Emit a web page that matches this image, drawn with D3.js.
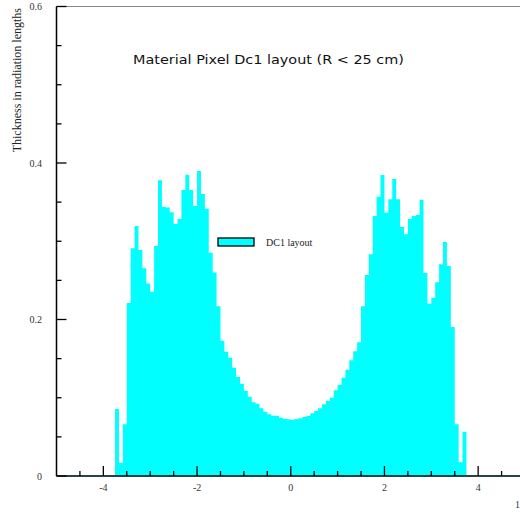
<!DOCTYPE html>
<html>
<head>
<meta charset="utf-8">
<script src="https://cdn.jsdelivr.net/npm/d3@7"></script>
<style>
  html, body { margin: 0; padding: 0; background: #fff; }
  svg { display: block; }
</style>
</head>
<body>
<svg id="chart" width="520" height="512"></svg>
<script>
// ---- data ----
const title = "Material Pixel Dc1 layout (R < 25 cm)";
const yTitle = "Thickness in radiation lengths";
const legendLabel = "DC1 layout";
const histRange = [-3.75, 3.75];   // eta range covered by the bins
const thickness = [
  0.0856, 0.017, 0.066, 0.221, 0.291, 0.3195, 0.2888, 0.2654, 0.246, 0.2355,
  0.2939, 0.378, 0.344, 0.343, 0.337, 0.322, 0.3284, 0.3655, 0.385, 0.3655,
  0.345, 0.3898, 0.3604, 0.3414, 0.2854, 0.26, 0.217, 0.1729, 0.1589, 0.1512,
  0.1384, 0.1265, 0.118, 0.1086, 0.1014, 0.0942, 0.0924, 0.0865, 0.0822, 0.0788,
  0.077, 0.0771, 0.0745, 0.0728, 0.0724, 0.072, 0.0728, 0.0737, 0.0754, 0.0771,
  0.0801, 0.0831, 0.0865, 0.0916, 0.0958, 0.1001, 0.1095, 0.1163, 0.1257, 0.1359,
  0.1478, 0.1593, 0.1708, 0.2168, 0.2569, 0.2833, 0.3323, 0.357, 0.3847, 0.3365,
  0.3536, 0.3795, 0.3536, 0.3182, 0.3088, 0.3284, 0.3323, 0.3335, 0.3531, 0.2594,
  0.2202, 0.2279, 0.2475, 0.2705, 0.299, 0.2684, 0.1904, 0.066, 0.0175, 0.0567
];
const xMajorTicks = [-4, -2, 0, 2, 4];
const xMinorTicks = [-4.5, -3.5, -3, -2.5, -1.5, -1, -0.5, 0.5, 1, 1.5, 2.5, 3, 3.5, 4.5];
const yMajorTicks = [0, 0.2, 0.4, 0.6];
const yMinorTicks = [0.05, 0.1, 0.15, 0.25, 0.3, 0.35, 0.45, 0.5, 0.55];
const yTickLabels = ["0", "0.2", "0.4", "0.6"];

// ---- layout ----
const svg = d3.select("#chart");
const x = d3.scaleLinear().domain([-5, 5]).range([56.5, 525]);
const y = d3.scaleLinear().domain([0, 0.6]).range([476, 6.5]);
const binX = d3.scaleLinear().domain([0, thickness.length]).range([x(histRange[0]), x(histRange[1])]);
const fillColor = "#00ffff";

// histogram as one stepped area (no seams between bins)
const stepPts = thickness.map((d, i) => ({ i, v: d }));
stepPts.push({ i: thickness.length, v: thickness[thickness.length - 1] });
const area = d3.area()
  .x(d => binX(d.i))
  .y0(y(0))
  .y1(d => y(d.v))
  .curve(d3.curveStepAfter);
svg.append("path")
  .attr("d", area(stepPts))
  .attr("fill", fillColor);

// frame: top line (grey)
svg.append("line")
  .attr("x1", x(-5)).attr("x2", 520)
  .attr("y1", y(0.6)).attr("y2", y(0.6))
  .attr("stroke", "#888").attr("stroke-width", 1);

// baseline
svg.append("line")
  .attr("x1", x(-5)).attr("x2", 520)
  .attr("y1", y(0)).attr("y2", y(0))
  .attr("stroke", "#000").attr("stroke-width", 1.5);
svg.append("line")
  .attr("x1", x(-4.77)).attr("x2", 520)
  .attr("y1", y(0)).attr("y2", y(0))
  .attr("stroke", "#1f4545").attr("stroke-width", 1.5);

// left axis line
svg.append("line")
  .attr("x1", x(-5)).attr("x2", x(-5))
  .attr("y1", y(0)).attr("y2", y(0.6))
  .attr("stroke", "#000").attr("stroke-width", 1.5);

// y ticks (inward)
const yt = svg.append("g").attr("stroke", "#000").attr("stroke-width", 1.3);
yt.selectAll("line.maj").data(yMajorTicks).join("line")
  .attr("x1", x(-5)).attr("x2", x(-5) + 10)
  .attr("y1", d => y(d)).attr("y2", d => y(d));
yt.selectAll("line.min").data(yMinorTicks).join("line")
  .attr("x1", x(-5)).attr("x2", x(-5) + 5)
  .attr("y1", d => y(d)).attr("y2", d => y(d));

// x ticks (inward, upward)
const xt = svg.append("g").attr("stroke", "#000").attr("stroke-width", 1.3);
xt.selectAll("line.maj").data(xMajorTicks).join("line")
  .attr("x1", d => x(d)).attr("x2", d => x(d))
  .attr("y1", y(0)).attr("y2", y(0) - 10);
xt.selectAll("line.min").data(xMinorTicks).join("line")
  .attr("x1", d => x(d)).attr("x2", d => x(d))
  .attr("y1", y(0)).attr("y2", y(0) - 5);

// tick labels
const labelFont = "'Liberation Serif', 'Times New Roman', serif";
svg.append("g").selectAll("text").data(yMajorTicks).join("text")
  .attr("x", 42).attr("y", d => y(d) + 3.5)
  .attr("text-anchor", "end")
  .attr("font-family", labelFont).attr("font-size", 10).attr("fill", "#333")
  .text((d, i) => yTickLabels[i]);
svg.append("g").selectAll("text").data(xMajorTicks).join("text")
  .attr("x", d => x(d)).attr("y", 491)
  .attr("text-anchor", "middle")
  .attr("font-family", labelFont).attr("font-size", 10).attr("fill", "#333")
  .text(d => d3.format("d")(d).replace("−", "-"));

// partially visible axis title at bottom right
svg.append("text")
  .attr("x", 515).attr("y", 508)
  .attr("font-family", labelFont).attr("font-size", 10).attr("fill", "#333")
  .text("1");

// y axis title
svg.append("text")
  .attr("transform", "translate(21,8) rotate(-90)")
  .attr("text-anchor", "end")
  .attr("font-family", labelFont).attr("font-size", 12).attr("fill", "#222")
  .text(yTitle);

// title
svg.append("text")
  .attr("x", 133).attr("y", 64)
  .attr("font-family", "'DejaVu Sans', sans-serif").attr("font-size", 13)
  .attr("textLength", 271).attr("lengthAdjust", "spacingAndGlyphs")
  .attr("fill", "#111")
  .text(title);

// legend
svg.append("rect")
  .attr("x", 218).attr("y", 238).attr("width", 36).attr("height", 8)
  .attr("fill", fillColor).attr("stroke", "#000").attr("stroke-width", 1.3);
svg.append("text")
  .attr("x", 266).attr("y", 246)
  .attr("font-family", labelFont).attr("font-size", 10).attr("fill", "#222")
  .text(legendLabel);
</script>
</body>
</html>
